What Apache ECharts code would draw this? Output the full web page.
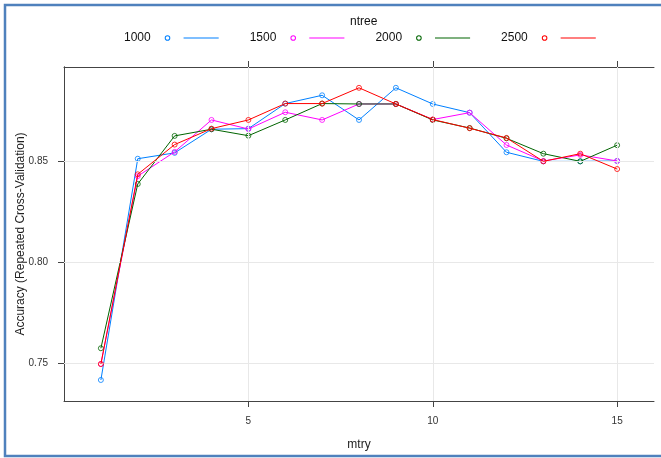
<!DOCTYPE html>
<html>
<head>
<meta charset="utf-8">
<script src="https://cdn.jsdelivr.net/npm/echarts@6/dist/echarts.min.js"></script>
<style>
html,body{margin:0;padding:0;background:#fff;}
#chart{width:661px;height:458px;}
</style>
</head>
<body>
<div id="chart"></div>
<script>
// ---- data ----
const mtry = [1,2,3,4,5,6,7,8,9,10,11,12,13,14,15];
const ntreeNames = ['1000','1500','2000','2500'];
const acc1000 = [0.7416,0.8511,0.8540,0.8657,0.8660,0.8784,0.8825,0.8703,0.8862,0.8782,0.8739,0.8543,0.8498,0.8498,0.8500];
const acc1500 = [0.7495,0.8425,0.8545,0.8703,0.8658,0.8741,0.8703,0.8782,0.8782,0.8705,0.8739,0.8579,0.8500,0.8530,0.8500];
const acc2000 = [0.7573,0.8386,0.8624,0.8657,0.8625,0.8703,0.8784,0.8782,0.8782,0.8703,0.8663,0.8612,0.8536,0.8498,0.8578];
const acc2500 = [0.7495,0.8434,0.8581,0.8660,0.8703,0.8784,0.8784,0.8862,0.8782,0.8705,0.8662,0.8614,0.8498,0.8536,0.8460];
const xTicks = [5,10,15];
const yTicks = [0.75,0.80,0.85];

// ---- styling ----
const colors = ['#0080ff','#ff00ff','#006400','#ff0000'];
const allSeries = [acc1000, acc1500, acc2000, acc2500];
const axisColor = '#444';
const legendIcon = 'path://M0.2,3 A2.8,2.8 0 1,1 5.8,3 A2.8,2.8 0 1,1 0.2,3 Z M1.2,3 A1.8,1.8 0 1,0 4.8,3 A1.8,1.8 0 1,0 1.2,3 Z M19,2.5 L54,2.5 L54,3.5 L19,3.5 Z';

const chart = echarts.init(document.getElementById('chart'), null, {renderer:'canvas'});

const xBase = {
  type:'value', min:0, max:16,
  axisLine:{show:true, lineStyle:{color:axisColor, width:1}},
  splitLine:{show:false},
};
const yBase = {
  type:'value', min:0.7312, max:0.8965,
  axisLine:{show:true, lineStyle:{color:axisColor, width:1}},
  splitLine:{show:false},
};

const series = [{
  type:'line', name:'grid', data:[], silent:true, z:1,
  markLine:{
    silent:true, symbol:'none', animation:false,
    label:{show:false},
    lineStyle:{color:'#e8e8e8', width:1, type:'solid'},
    emphasis:{disabled:true},
    data: xTicks.map(v=>({xAxis:v})).concat(yTicks.map(v=>({yAxis:v})))
  }
}];
allSeries.forEach((arr,i)=>{
  series.push({
    type:'line', name:ntreeNames[i], z:2+i,
    data: mtry.map((m,j)=>[m, arr[j]]),
    symbol:'circle', symbolSize:5,
    lineStyle:{color:colors[i], width:1},
    itemStyle:{color:'rgba(255,255,255,0)', borderColor:colors[i], borderWidth:0.8},
    emphasis:{disabled:true},
    xAxisIndex:0, yAxisIndex:0
  });
});

chart.setOption({
  animation:false,
  backgroundColor:'#fff',
  title:{
    text:'ntree', left:345, top:11,
    textStyle:{fontSize:12, fontWeight:'normal', color:'#111', fontFamily:'Liberation Sans'}
  },
  legend:{
    data: ntreeNames.map((n,i)=>({name:n, itemStyle:{color:colors[i], borderWidth:0}})),
    left:119, top:27,
    align:'right',
    icon: legendIcon,
    itemWidth:54, itemHeight:6,
    itemGap:31,
    itemStyle:{borderWidth:0},
    selectedMode:false,
    textStyle:{fontSize:12, color:'#111', fontFamily:'Liberation Sans', padding:[0,9,0,0]}
  },
  grid:{left:64, top:67, width:590, height:334, outerBoundsMode:'none', containLabel:false},
  xAxis:[
    Object.assign({}, xBase, {
      position:'bottom',
      axisTick:{show:true, length:6, inside:false, customValues:xTicks, lineStyle:{color:axisColor}},
      axisLabel:{show:true, customValues:xTicks, margin:15, fontSize:10, color:'#333', fontFamily:'Liberation Sans'},
      name:'mtry', nameLocation:'middle', nameGap:38, nameMoveOverlap:false,
      nameTextStyle:{fontSize:12, color:'#222', fontFamily:'Liberation Sans'}
    }),
    Object.assign({}, xBase, {
      position:'top',
      axisTick:{show:true, length:6, inside:false, customValues:xTicks, lineStyle:{color:axisColor}},
      axisLabel:{show:false}
    })
  ],
  yAxis:[
    Object.assign({}, yBase, {
      position:'left',
      axisTick:{show:true, length:6, inside:false, customValues:yTicks, lineStyle:{color:axisColor}},
      axisLabel:{show:true, customValues:yTicks, margin:16, fontSize:10, color:'#333', fontFamily:'Liberation Sans',
        formatter:v=>v.toFixed(2)},
      name:'Accuracy (Repeated Cross-Validation)', nameLocation:'middle', nameGap:37, nameRotate:90, nameMoveOverlap:false,
      nameTextStyle:{fontSize:12, color:'#222', fontFamily:'Liberation Sans'}
    }),
    Object.assign({}, yBase, {
      position:'right',
      axisTick:{show:true, length:6, inside:false, customValues:yTicks, lineStyle:{color:axisColor}},
      axisLabel:{show:false}
    })
  ],
  graphic:[{
    type:'rect', silent:true, z:100,
    shape:{x:5, y:5, width:720, height:451},
    style:{fill:'none', stroke:'#4f81bd', lineWidth:2.5}
  }],
  series: series
});
</script>
</body>
</html>
